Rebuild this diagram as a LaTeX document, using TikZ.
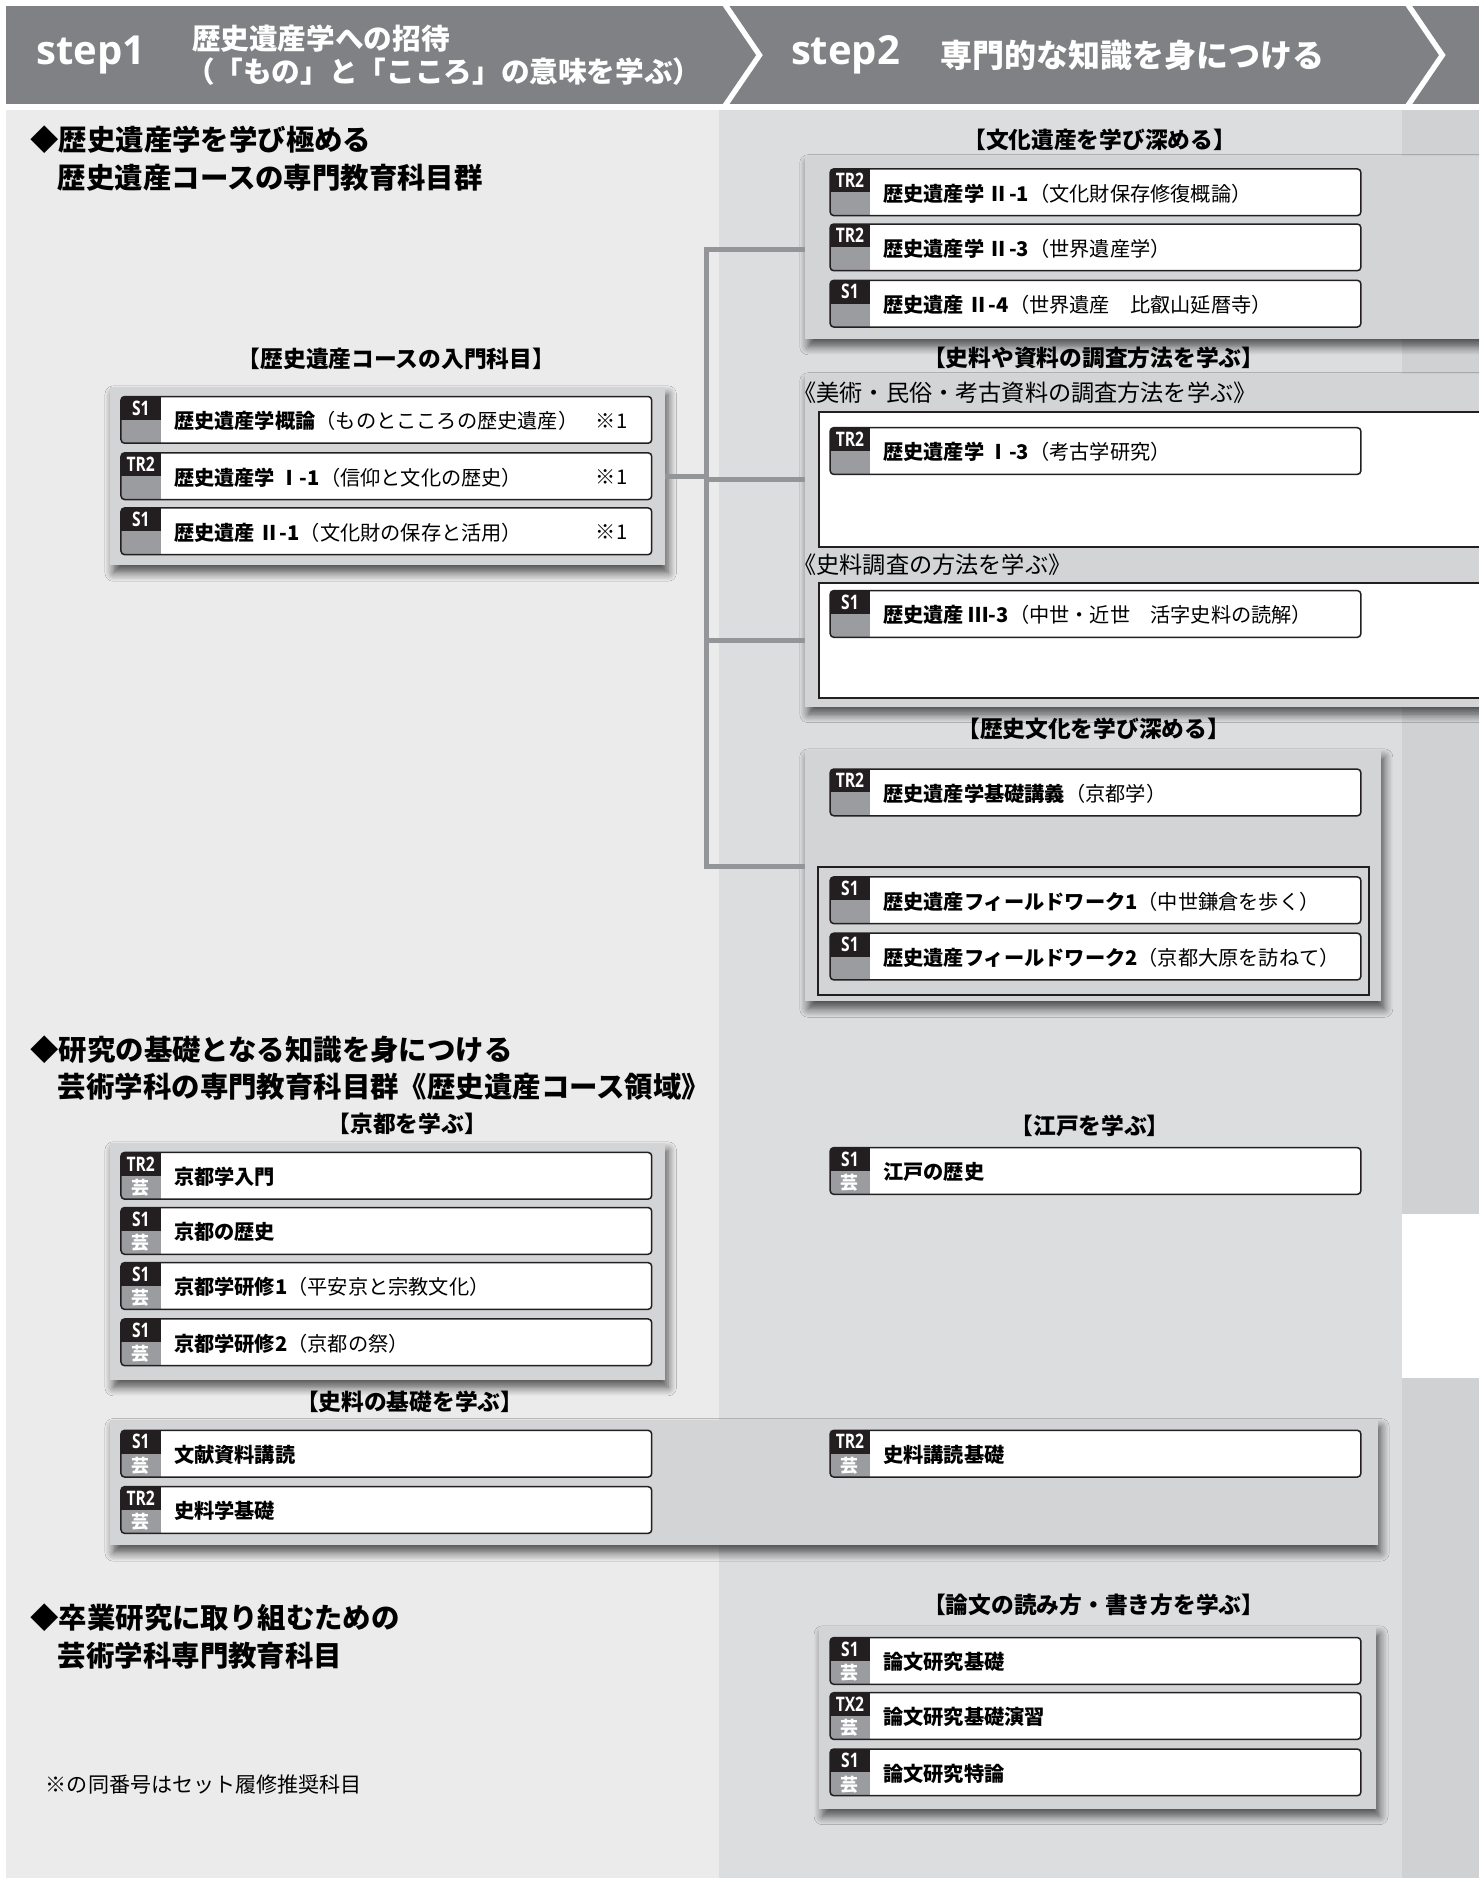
\documentclass[tikz,border=0pt]{standalone}
\usepackage{fontspec}
\setmainfont{Noto Sans CJK JP}
\newfontfamily\latinfont{Open Sans}
\newfontfamily\tagfont{Open Sans}[FakeStretch=0.78]
\usetikzlibrary{shadows.blur}

\definecolor{headgray}{HTML}{808184}
\definecolor{leftbg}{HTML}{EBEBEC}
\definecolor{midbg}{HTML}{DCDDDF}
\definecolor{stripbg}{HTML}{D0D1D3}
\definecolor{panelgray}{HTML}{D3D4D6}
\definecolor{tabgray}{HTML}{9B9C9F}
\definecolor{tabblack}{HTML}{231F20}
\definecolor{linkgray}{HTML}{939598}

\tikzset{
  panel/.style={fill=panelgray, anchor=north west, inner sep=0pt, outer sep=0pt,
    blur shadow={shadow xshift=1.5pt, shadow yshift=-3.5pt, shadow blur radius=4pt, shadow blur steps=8, shadow opacity=65}},
  course/.style={fill=white, anchor=north west, inner sep=0pt, outer sep=0pt,
    minimum width=88.6mm, minimum height=7.8mm, rounded corners=0.6mm},
  courseline/.style={draw=tabblack, line width=0.25mm, rounded corners=0.6mm},
  tagtext/.style={text=white, font=\tagfont\bfseries\fontsize{9.5}{9.5}\selectfont, inner sep=0pt},
  geitext/.style={text=white, font=\bfseries\fontsize{8.5}{9}\selectfont, inner sep=0pt},
  coursetext/.style={anchor=west, inner sep=0pt, font=\fontsize{9.6}{10}\selectfont},
  grouptitle/.style={font=\bfseries\fontsize{10.8}{12}\selectfont, inner sep=0pt},
  subtitle/.style={anchor=west, font=\fontsize{11}{12}\selectfont, inner sep=0pt},
  heading/.style={anchor=west, font=\bfseries\fontsize{13.5}{14}\selectfont, inner sep=0pt},
  steptext/.style={anchor=west, text=white, font=\latinfont\bfseries\fontsize{19}{20}\selectfont, inner sep=0pt},
  headtext/.style={anchor=west, text=white, font=\bfseries\fontsize{13.6}{14}\selectfont, inner sep=0pt},
  link/.style={draw=linkgray, line width=0.8mm},
  whitebox/.style={fill=white, draw=tabblack, line width=0.3mm},
}

\begin{document}
\begin{tikzpicture}[x=0.2mm, y=-0.2mm]
\useasboundingbox (0,0) rectangle (1234,1567.7);

% course box: name, x, y, tag, lower tag, bold title, rest, note
\def\course#1#2#3#4#5#6#7#8{%
  \node[course] (#1) at (#2,#3) {};
  \begin{scope}
    \clip[rounded corners=0.6mm] (#1.north west) rectangle (#1.south east);
    \fill[tabblack] (#1.north west) rectangle ++(33,19.5);
    \fill[tabgray] (#1.west) rectangle ++(33,19.5);
  \end{scope}
  \draw[courseline] (#1.north west) rectangle (#1.south east);
  \path (#1.north west) ++(16.5,9.5) node[tagtext] (#1tag) {#4};
  \path (#1.west) ++(16.5,10) node[geitext] (#1gei) {#5};
  \path (#1.west) ++(44,1) node[coursetext] (#1text) {\textbf{#6}#7};
  \path (#1.west) ++(396,1) node[coursetext] (#1note) {#8};
}

% backgrounds
\fill[leftbg] (5,92) rectangle (600,1572);
\fill[midbg] (600,92) rectangle (1170,1572);
\fill[stripbg] (1170,92) rectangle (1240,1013);
\fill[stripbg] (1170,1150) rectangle (1240,1572);

% header band
\fill[headgray] (5,5) rectangle (1240,87);
\draw[white, line width=0.9mm] (604,2) -- (634,46) -- (604,90);
\draw[white, line width=0.9mm] (1174,2) -- (1204,46) -- (1174,90);
\node[steptext] (step1) at (30,46) {step1};
\node[headtext] (head1a) at (160,32) {歴史遺産学への招待};
\node[headtext] (head1b) at (155,60) {（「もの」と「こころ」の意味を学ぶ）};
\node[steptext] (step2) at (660,46) {step2};
\node[headtext, font=\bfseries\fontsize{15.2}{16}\selectfont] (head2) at (785,46) {専門的な知識を身につける};

% left headings
\node[heading] (sec1a) at (25,117) {◆歴史遺産学を学び極める};
\node[heading] (sec1b) at (48,148) {歴史遺産コースの専門教育科目群};
\node[heading] (sec2a) at (25,876) {◆研究の基礎となる知識を身につける};
\node[heading] (sec2b) at (48,907) {芸術学科の専門教育科目群《歴史遺産コース領域》};
\node[heading] (sec3a) at (25,1350) {◆卒業研究に取り組むための};
\node[heading] (sec3b) at (48,1382) {芸術学科専門教育科目};
\node[anchor=west, inner sep=0pt, font=\fontsize{10}{11}\selectfont] (memo) at (38,1490) {※の同番号はセット履修推奨科目};

% group titles
\node[grouptitle] (t_intro) at (331,300) {【歴史遺産コースの入門科目】};
\node[grouptitle] (t_bunka) at (918,117) {【文化遺産を学び深める】};
\node[grouptitle] (t_chosa) at (913,299) {【史料や資料の調査方法を学ぶ】};
\node[grouptitle] (t_rekishi) at (913,608) {【歴史文化を学び深める】};
\node[grouptitle] (t_kyoto) at (340,938) {【京都を学ぶ】};
\node[grouptitle] (t_edo) at (910,940) {【江戸を学ぶ】};
\node[grouptitle] (t_kiso) at (342,1170) {【史料の基礎を学ぶ】};
\node[grouptitle] (t_ronbun) at (913,1340) {【論文の読み方・書き方を学ぶ】};

% panels
\node[panel, minimum width=92.6mm, minimum height=29.8mm] (intro) at (92,323) {};
\node[panel, minimum width=114mm, minimum height=30.6mm] (bunka) at (672,130) {};
\node[panel, minimum width=114mm, minimum height=55.6mm] (chosa) at (672,312) {};
\node[panel, minimum width=96.2mm, minimum height=42mm] (rekishi) at (672,626) {};
\node[panel, minimum width=92.6mm, minimum height=39.6mm] (kyoto) at (92,954) {};
\node[panel, minimum width=211.6mm, minimum height=21mm] (kiso) at (92,1185) {};
\node[panel, minimum width=93mm, minimum height=30.4mm] (ronbun) at (684,1358) {};

% sub frames
\node[subtitle] (st1) at (662,328) {《美術・民俗・考古資料の調査方法を学ぶ》};
\node[whitebox, anchor=north west, minimum width=113mm, minimum height=22.6mm, inner sep=0pt] (sub1) at (683,343) {};
\node[subtitle] (st2) at (662,471) {《史料調査の方法を学ぶ》};
\node[whitebox, anchor=north west, minimum width=113mm, minimum height=19.2mm, inner sep=0pt] (sub2) at (683,486) {};
\node[draw=tabblack, line width=0.3mm, anchor=north west, minimum width=92mm, minimum height=21.4mm, inner sep=0pt] (frame) at (682,723) {};

% connectors
\coordinate (hub) at (590,0);
\draw[link] (intro.east) -- (intro.east -| hub);
\draw[link] (bunka.west |- 0,208) -| (hub |- frame.north) -- (frame.north -| rekishi.west);
\draw[link] (hub |- sub1.west) -- (sub1.west -| chosa.west);
\draw[link] (hub |- sub2.west) -- (sub2.west -| chosa.west);

% courses
\course{c1}{101}{331}{S1}{}{歴史遺産学概論}{（ものとこころの歴史遺産）}{※1}
\course{c2}{101}{378}{TR2}{}{歴史遺産学 Ⅰ-1}{（信仰と文化の歴史）}{※1}
\course{c3}{101}{424}{S1}{}{歴史遺産 Ⅱ-1}{（文化財の保存と活用）}{※1}
\course{b1}{693}{141}{TR2}{}{歴史遺産学 Ⅱ-1}{（文化財保存修復概論）}{}
\course{b2}{693}{187}{TR2}{}{歴史遺産学 Ⅱ-3}{（世界遺産学）}{}
\course{b3}{693}{234}{S1}{}{歴史遺産 Ⅱ-4}{（世界遺産　比叡山延暦寺）}{}
\course{h1}{693}{357}{TR2}{}{歴史遺産学 Ⅰ-3}{（考古学研究）}{}
\course{h2}{693}{493}{S1}{}{歴史遺産 Ⅲ-3}{（中世・近世　活字史料の読解）}{}
\course{r1}{693}{642}{TR2}{}{歴史遺産学基礎講義}{（京都学）}{}
\course{r2}{693}{732}{S1}{}{歴史遺産フィールドワーク1}{（中世鎌倉を歩く）}{}
\course{r3}{693}{779}{S1}{}{歴史遺産フィールドワーク2}{（京都大原を訪ねて）}{}
\course{k1}{101}{962}{TR2}{芸}{京都学入門}{}{}
\course{k2}{101}{1008}{S1}{芸}{京都の歴史}{}{}
\course{k3}{101}{1054}{S1}{芸}{京都学研修1}{（平安京と宗教文化）}{}
\course{k4}{101}{1101}{S1}{芸}{京都学研修2}{（京都の祭）}{}
\course{e1}{693}{958}{S1}{芸}{江戸の歴史}{}{}
\course{s1}{101}{1194}{S1}{芸}{文献資料講読}{}{}
\course{s2}{101}{1241}{TR2}{芸}{史料学基礎}{}{}
\course{s3}{693}{1194}{TR2}{芸}{史料講読基礎}{}{}
\course{p1}{693}{1367}{S1}{芸}{論文研究基礎}{}{}
\course{p2}{693}{1413}{TX2}{芸}{論文研究基礎演習}{}{}
\course{p3}{693}{1460}{S1}{芸}{論文研究特論}{}{}
\end{tikzpicture}
\end{document}
